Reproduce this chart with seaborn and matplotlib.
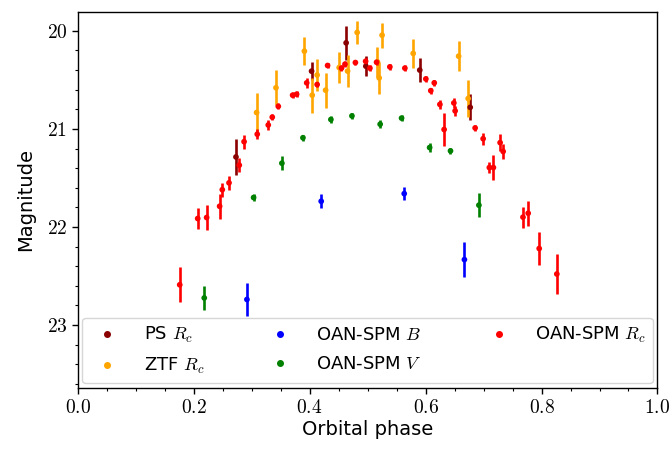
import numpy as np
import pandas as pd
import seaborn as sns
import matplotlib
matplotlib.use("Agg")
import matplotlib.pyplot as plt
from matplotlib.lines import Line2D
from matplotlib.ticker import MultipleLocator, FuncFormatter

# ---------------- data ----------------
ps_phase = [0.273, 0.4034, 0.463, 0.497, 0.590, 0.677]
ps_mag = [21.286, 20.411, 20.122, 20.36, 20.40, 20.78]
ps_err = [0.187, 0.094, 0.175, 0.10, 0.12, 0.134]

ztf_phase = [0.3086, 0.342, 0.391, 0.4045, 0.413, 0.4276, 0.451, 0.4655,
             0.482, 0.517, 0.520, 0.525, 0.5787, 0.657, 0.6735]
ztf_mag = [20.833, 20.58, 20.207, 20.656, 20.45, 20.605, 20.374, 20.41,
           20.016, 20.316, 20.48, 20.044, 20.23, 20.258, 20.69]
ztf_err = [0.196, 0.18, 0.14, 0.18, 0.165, 0.18, 0.16, 0.16,
           0.12, 0.153, 0.167, 0.128, 0.148, 0.153, 0.187]

b_phase = [0.2919, 0.420, 0.5632, 0.667]
b_mag = [22.74, 21.738, 21.66, 22.333]
b_err = [0.167, 0.07, 0.063, 0.175]

v_phase = [0.2183, 0.3034, 0.3522, 0.3885, 0.4367, 0.473, 0.5217, 0.5586,
           0.607, 0.643, 0.692]
v_mag = [22.724, 21.70, 21.35, 21.09, 20.904, 20.867, 20.952, 20.89,
         21.19, 21.224, 21.778]
v_err = [0.124, 0.04, 0.07, 0.03, 0.04, 0.03, 0.04, 0.03, 0.05, 0.03, 0.12]

r_phase = [0.176, 0.207, 0.2224, 0.2448, 0.2494, 0.261, 0.2787, 0.287,
           0.3097, 0.3287, 0.3356, 0.346, 0.3707, 0.3776, 0.395, 0.413,
           0.431, 0.455, 0.461, 0.479, 0.4966, 0.504, 0.5155, 0.5384,
           0.5643, 0.6005, 0.609, 0.615, 0.6247, 0.632, 0.6488, 0.651,
           0.6855, 0.6993, 0.710, 0.717, 0.7286, 0.7338, 0.768, 0.777,
           0.796, 0.8264]
r_mag = [22.59, 21.914, 21.904, 21.789, 21.62, 21.55, 21.37, 21.13,
         21.054, 20.96, 20.88, 20.77, 20.656, 20.646, 20.53, 20.547,
         20.353, 20.38, 20.34, 20.323, 20.31, 20.38, 20.32, 20.367,
         20.38, 20.49, 20.61, 20.53, 20.75, 21.006, 20.735, 20.816,
         20.99, 21.10, 21.394, 21.394, 21.14, 21.23, 21.90, 21.86,
         22.22, 22.48]
r_err = [0.18, 0.107, 0.128, 0.126, 0.07, 0.07, 0.07, 0.07,
         0.05, 0.05, 0.03, 0.03, 0.03, 0.03, 0.05, 0.03,
         0.03, 0.03, 0.03, 0.03, 0.03, 0.03, 0.03, 0.03,
         0.03, 0.03, 0.03, 0.03, 0.05, 0.17, 0.05, 0.05,
         0.03, 0.06, 0.06, 0.125, 0.09, 0.075, 0.107, 0.128,
         0.167, 0.20]

series = [
    ("PS $R_c$", ps_phase, ps_mag, ps_err, "#8B0000"),
    ("ZTF $R_c$", ztf_phase, ztf_mag, ztf_err, "orange"),
    ("OAN-SPM $B$", b_phase, b_mag, b_err, "blue"),
    ("OAN-SPM $V$", v_phase, v_mag, v_err, "green"),
    ("OAN-SPM $R_c$", r_phase, r_mag, r_err, "red"),
]

# ---------------- style ----------------
sns.set_theme(style="ticks")
plt.rcParams["font.family"] = ["DejaVu Sans"]
plt.rcParams["mathtext.fontset"] = "cm"
for k in ["text.color", "axes.labelcolor", "xtick.color", "ytick.color",
          "axes.edgecolor"]:
    plt.rcParams[k] = "black"

fig = plt.figure(figsize=(6.72, 4.54), dpi=100)
ax = fig.add_axes([0.1156, 0.146, 0.9784 - 0.1156, 0.973 - 0.146])

frames = []
for label, ph, mg, er, col in series:
    frames.append(pd.DataFrame({"phase": ph, "mag": mg, "err": er, "set": label}))
df = pd.concat(frames, ignore_index=True)
palette = {s[0]: s[4] for s in series}

# error bars (lines only), then seaborn scatter for the points
for label, ph, mg, er, col in series:
    ax.errorbar(ph, mg, yerr=er, fmt="none", ecolor=col, elinewidth=1.9,
                capsize=0, zorder=2)
sns.scatterplot(data=df, x="phase", y="mag", hue="set", palette=palette,
                s=17, linewidth=0, ax=ax, legend=False, zorder=3)

ax.set_xlim(0.0, 1.0)
ax.set_ylim(23.64, 19.81)
ax.xaxis.set_major_locator(MultipleLocator(0.2))
ax.xaxis.set_minor_locator(MultipleLocator(0.05))
ax.yaxis.set_major_locator(MultipleLocator(1))
ax.yaxis.set_minor_locator(MultipleLocator(0.2))
ax.xaxis.set_major_formatter(FuncFormatter(lambda v, p: r"$%.1f$" % v))
ax.yaxis.set_major_formatter(FuncFormatter(lambda v, p: r"$%d$" % round(v)))
ax.tick_params(axis="both", which="major", labelsize=14, length=4, width=1,
               direction="out", color="black", labelcolor="black")
ax.tick_params(axis="both", which="minor", length=2.5, width=0.8,
               direction="out", color="black")
for sp in ax.spines.values():
    sp.set_visible(True)
    sp.set_color("black")
    sp.set_linewidth(1.0)

ax.set_xlabel("Orbital phase", fontsize=14, labelpad=2, color="black")
ax.set_ylabel("Magnitude", fontsize=14, labelpad=8, color="black")

handles = [Line2D([], [], marker="o", linestyle="none", markersize=4,
                  markerfacecolor=s[4], markeredgecolor=s[4]) for s in series]
labels = [s[0] for s in series]
leg = ax.legend(handles, labels, ncol=3, loc="lower left", mode="expand",
                bbox_to_anchor=(0, 0, 1, 1), borderaxespad=0.25, fontsize=13,
                frameon=True, framealpha=0.8, edgecolor="#cccccc",
                handletextpad=1.0, columnspacing=1.0, labelspacing=0.6)
for t in leg.get_texts():
    t.set_color("black")

fig.savefig("out.png", dpi=100)
